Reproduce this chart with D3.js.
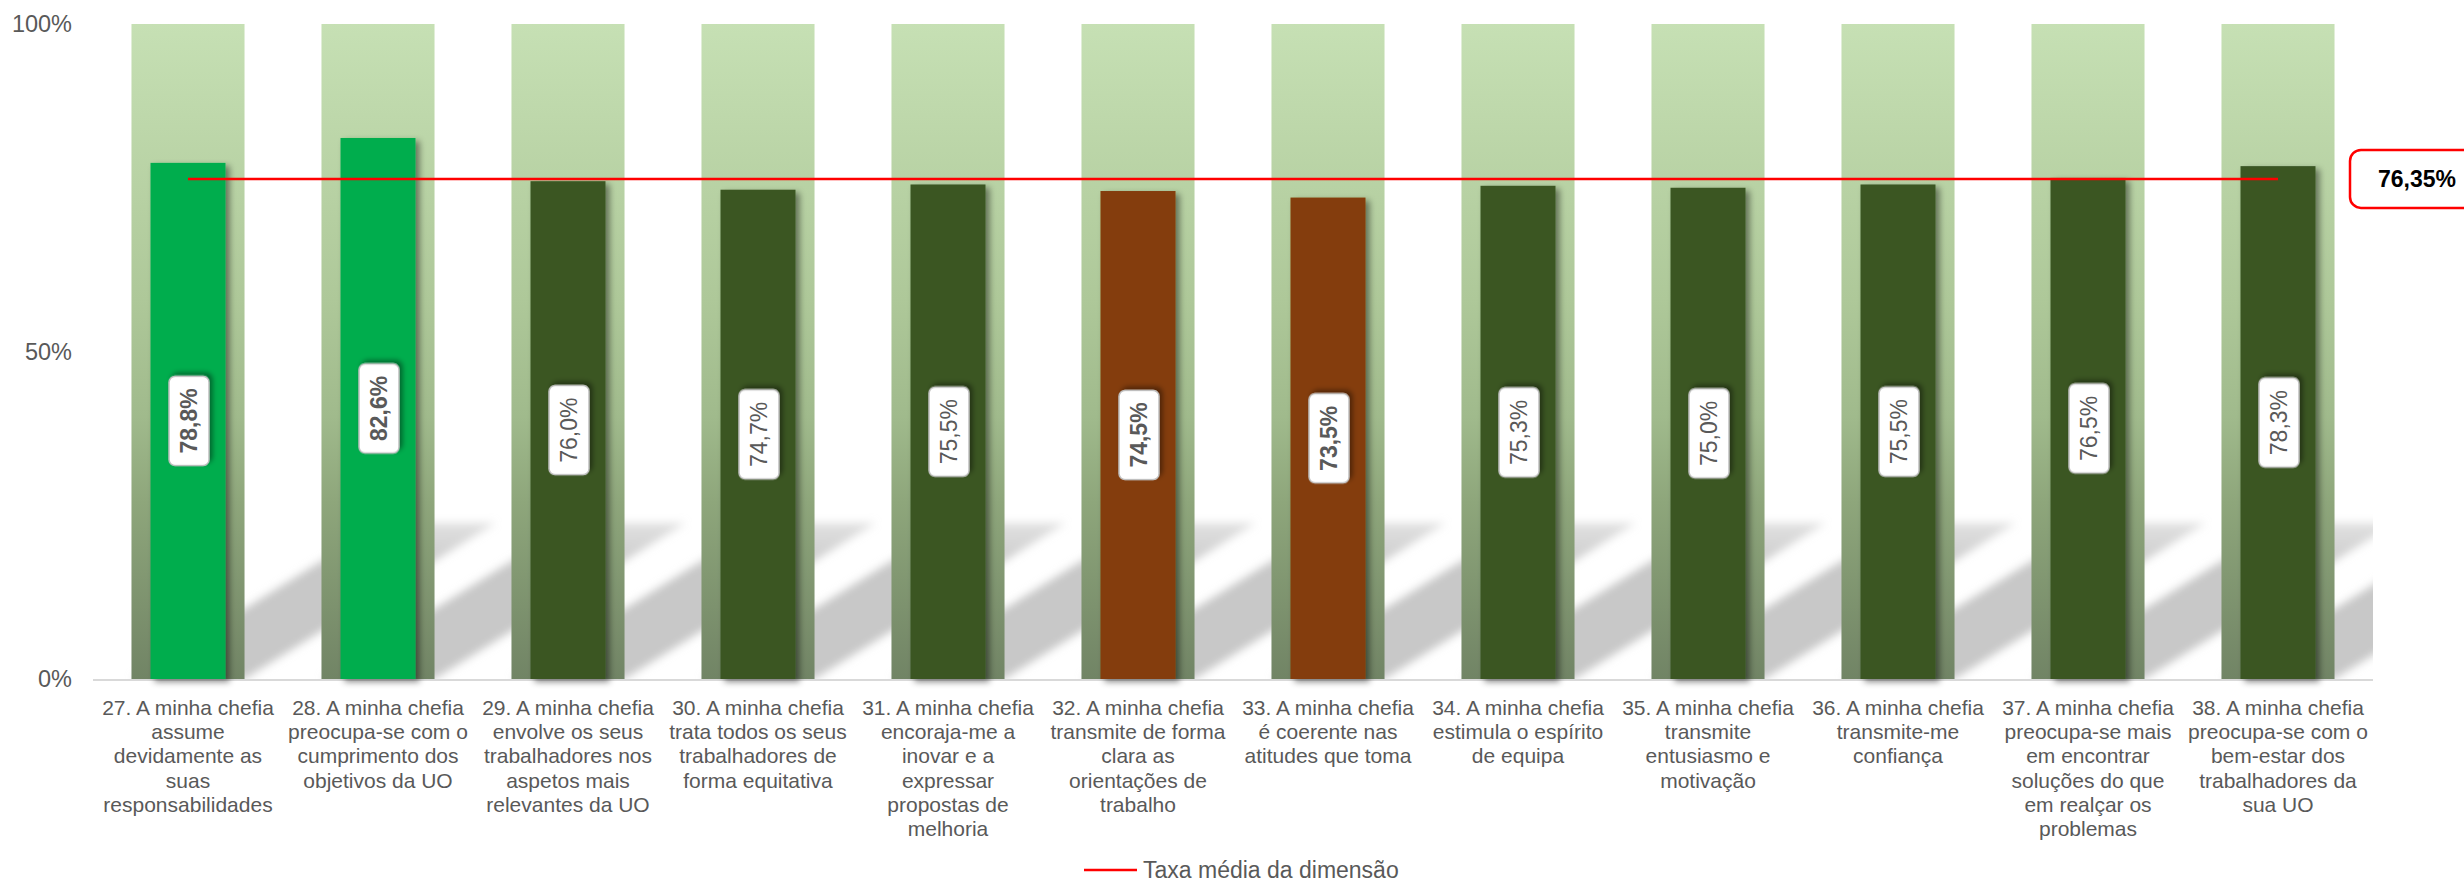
<!DOCTYPE html>
<html>
<head>
<meta charset="utf-8">
<script src="https://cdn.jsdelivr.net/npm/d3@7"></script>
<style>
  body { margin: 0; background: #fff; }
  text { font-family: "Liberation Sans", Arial, sans-serif; }
</style>
</head>
<body>
<div id="chart"></div>
<script>
// categories (line breaks as in the original chart)
const categories = [
  "27. A minha chefia\nassume\ndevidamente as\nsuas\nresponsabilidades",
  "28. A minha chefia\npreocupa-se com o\ncumprimento dos\nobjetivos da UO",
  "29. A minha chefia\nenvolve os seus\ntrabalhadores nos\naspetos mais\nrelevantes da UO",
  "30. A minha chefia\ntrata todos os seus\ntrabalhadores de\nforma equitativa",
  "31. A minha chefia\nencoraja-me a\ninovar e a\nexpressar\npropostas de\nmelhoria",
  "32. A minha chefia\ntransmite de forma\nclara as\norientações de\ntrabalho",
  "33. A minha chefia\né coerente nas\natitudes que toma",
  "34. A minha chefia\nestimula o espírito\nde equipa",
  "35. A minha chefia\ntransmite\nentusiasmo e\nmotivação",
  "36. A minha chefia\ntransmite-me\nconfiança",
  "37. A minha chefia\npreocupa-se mais\nem encontrar\nsoluções do que\nem realçar os\nproblemas",
  "38. A minha chefia\npreocupa-se com o\nbem-estar dos\ntrabalhadores da\nsua UO"
];
const values = [78.8, 82.6, 76.0, 74.7, 75.5, 74.5, 73.5, 75.3, 75.0, 75.5, 76.5, 78.3];
// "high", "mid", "low" colour class of each bar
const levels = ["high", "high", "mid", "mid", "mid", "low", "low", "mid", "mid", "mid", "mid", "mid"];
const average = 76.35;
const yTicks = [0, 50, 100];
const legendLabel = "Taxa média da dimensão";

const W = 2464, H = 886;
const plotLeft = 93, plotRight = 2373, plotTop = 24, plotBottom = 679;

const ptLocale = d3.formatLocale({decimal: ",", thousands: ".", grouping: [3], currency: ["", "€"]});
const fmt1 = ptLocale.format(".1f");
const fmt2 = ptLocale.format(".2f");

const colorOf = {high: "#00AD4E", mid: "#3A5623", low: "#843C0C"};

const svg = d3.select("#chart").append("svg")
    .attr("width", W)
    .attr("height", H);

const defs = svg.append("defs");

const bgGrad = defs.append("linearGradient")
    .attr("id", "bgGrad")
    .attr("x1", 0).attr("y1", 0).attr("x2", 0).attr("y2", 1);
[[0, "#C6E0B4"], [0.42, "#AEC899"], [0.6, "#A0BA8C"], [0.73, "#8EA67B"], [1, "#718465"]].forEach(function(s) {
    bgGrad.append("stop").attr("offset", s[0]).attr("stop-color", s[1]);
});

// shadow fades out towards its top edge
const shGrad = defs.append("linearGradient")
    .attr("id", "shGrad")
    .attr("x1", 0).attr("y1", 0).attr("x2", 0).attr("y2", 1);
shGrad.append("stop").attr("offset", 0).attr("stop-color", "#C8C8C8").attr("stop-opacity", 0.55);
shGrad.append("stop").attr("offset", 0.3).attr("stop-color", "#C8C8C8").attr("stop-opacity", 1);
shGrad.append("stop").attr("offset", 1).attr("stop-color", "#C8C8C8").attr("stop-opacity", 1);

defs.append("filter").attr("id", "blur")
    .attr("x", "-20%").attr("y", "-20%").attr("width", "140%").attr("height", "140%")
    .append("feGaussianBlur").attr("stdDeviation", 4.5);

defs.append("filter").attr("id", "barShadow")
    .attr("x", "-30%").attr("y", "-10%").attr("width", "160%").attr("height", "120%")
    .append("feDropShadow")
    .attr("dx", 4).attr("dy", 3).attr("stdDeviation", 3)
    .attr("flood-color", "#000").attr("flood-opacity", 0.45);

defs.append("filter").attr("id", "boxShadow")
    .attr("x", "-30%").attr("y", "-30%").attr("width", "160%").attr("height", "160%")
    .append("feDropShadow")
    .attr("dx", 3).attr("dy", 3).attr("stdDeviation", 2.5)
    .attr("flood-color", "#000").attr("flood-opacity", 0.4);

defs.append("clipPath").attr("id", "plotClip")
    .append("rect")
    .attr("x", plotLeft).attr("y", plotTop)
    .attr("width", plotRight - plotLeft).attr("height", plotBottom - plotTop);

const x = d3.scaleBand()
    .domain(categories)
    .range([plotLeft, plotRight])
    .paddingInner(0.405)
    .paddingOuter(0.2025);

const y = d3.scaleLinear()
    .domain([0, 100])
    .range([plotBottom, plotTop]);

const innerW = 75;

// perspective shadows of the background columns
const shadowTop = y(23.8);
const skew = 1.61;
svg.append("g")
    .attr("clip-path", "url(#plotClip)")
    .selectAll("polygon")
    .data(categories)
    .join("polygon")
    .attr("points", function(d) {
        const x0 = x(d), x1 = x(d) + x.bandwidth();
        const off = (y(0) - shadowTop) * skew;
        return [[x0, y(0)], [x1, y(0)], [x1 + off, shadowTop], [x0 + off, shadowTop]].join(" ");
    })
    .attr("fill", "url(#shGrad)")
    .attr("filter", "url(#blur)");

// background columns (100%)
svg.append("g")
    .selectAll("rect")
    .data(categories)
    .join("rect")
    .attr("x", function(d) { return x(d); })
    .attr("y", y(100))
    .attr("width", x.bandwidth())
    .attr("height", y(0) - y(100))
    .attr("fill", "url(#bgGrad)");

// axis line
svg.append("line")
    .attr("x1", plotLeft).attr("x2", plotRight)
    .attr("y1", plotBottom + 1).attr("y2", plotBottom + 1)
    .attr("stroke", "#D9D9D9")
    .attr("stroke-width", 2);

// value bars
svg.append("g")
    .selectAll("rect")
    .data(values)
    .join("rect")
    .attr("x", function(d, i) { return x(categories[i]) + x.bandwidth() / 2 - innerW / 2; })
    .attr("y", function(d) { return y(d); })
    .attr("width", innerW)
    .attr("height", function(d) { return y(0) - y(d); })
    .attr("fill", function(d, i) { return colorOf[levels[i]]; })
    .attr("filter", "url(#barShadow)");

// average line
svg.append("line")
    .attr("x1", x(categories[0]) + x.bandwidth() / 2)
    .attr("x2", x(categories[categories.length - 1]) + x.bandwidth() / 2)
    .attr("y1", y(average)).attr("y2", y(average))
    .attr("stroke", "#FF0000")
    .attr("stroke-width", 2.5);

// value labels (rotated, in rounded boxes)
const labels = svg.append("g")
    .selectAll("g")
    .data(values)
    .join("g")
    .attr("transform", function(d, i) {
        const cx = x(categories[i]) + x.bandwidth() / 2 + 1;
        const cy = (y(d) + y(0)) / 2;
        return "translate(" + cx + "," + cy + ") rotate(-90)";
    });

labels.append("rect").attr("class", "lblBox");
labels.append("text")
    .attr("text-anchor", "middle")
    .attr("dy", "0.36em")
    .style("font-size", "23px")
    .style("font-weight", function(d, i) { return levels[i] === "mid" ? "normal" : "bold"; })
    .attr("fill", "#595959")
    .text(function(d) { return fmt1(d) + "%"; });

labels.each(function() {
    const g = d3.select(this);
    const w = g.select("text").node().getComputedTextLength() + 24;
    g.select("rect")
        .attr("x", -w / 2).attr("y", -20)
        .attr("width", w).attr("height", 40)
        .attr("rx", 6).attr("ry", 6)
        .attr("fill", "#fff")
        .attr("stroke", "#BFBFBF")
        .attr("stroke-width", 1.5)
        .attr("filter", "url(#boxShadow)");
});

// average label on the right
const avgG = svg.append("g")
    .attr("transform", "translate(" + (plotRight + 44) + "," + y(average) + ")");
avgG.append("rect")
    .attr("x", -67).attr("y", -29)
    .attr("width", 130).attr("height", 58)
    .attr("rx", 11).attr("ry", 11)
    .attr("fill", "#fff")
    .attr("stroke", "#FF0000")
    .attr("stroke-width", 2.5);
avgG.append("text")
    .attr("x", 0)
    .attr("text-anchor", "middle")
    .attr("dy", "0.36em")
    .style("font-size", "23px")
    .style("font-weight", "bold")
    .attr("fill", "#000")
    .text(fmt2(average) + "%");

// y tick labels
svg.append("g")
    .selectAll("text")
    .data(yTicks)
    .join("text")
    .attr("x", 72)
    .attr("y", function(d) { return y(d); })
    .attr("dy", "0.35em")
    .attr("text-anchor", "end")
    .style("font-size", "23.5px")
    .attr("fill", "#595959")
    .text(function(d) { return d + "%"; });

// category labels
const catG = svg.append("g")
    .selectAll("text")
    .data(categories)
    .join("text")
    .attr("text-anchor", "middle")
    .style("font-size", "21px")
    .attr("fill", "#595959");

catG.each(function(d) {
    const t = d3.select(this);
    const cx = x(d) + x.bandwidth() / 2;
    d.split("\n").forEach(function(line, k) {
        t.append("tspan")
            .attr("x", cx)
            .attr("y", 715 + k * 24.2)
            .text(line);
    });
});

// legend
const legend = svg.append("g").attr("transform", "translate(1084,870)");
legend.append("line")
    .attr("x1", 0).attr("x2", 53)
    .attr("y1", 0).attr("y2", 0)
    .attr("stroke", "#FF0000")
    .attr("stroke-width", 2.5);
legend.append("text")
    .attr("x", 59)
    .attr("y", 8)
    .style("font-size", "23px")
    .attr("fill", "#595959")
    .text(legendLabel);
</script>
</body>
</html>
